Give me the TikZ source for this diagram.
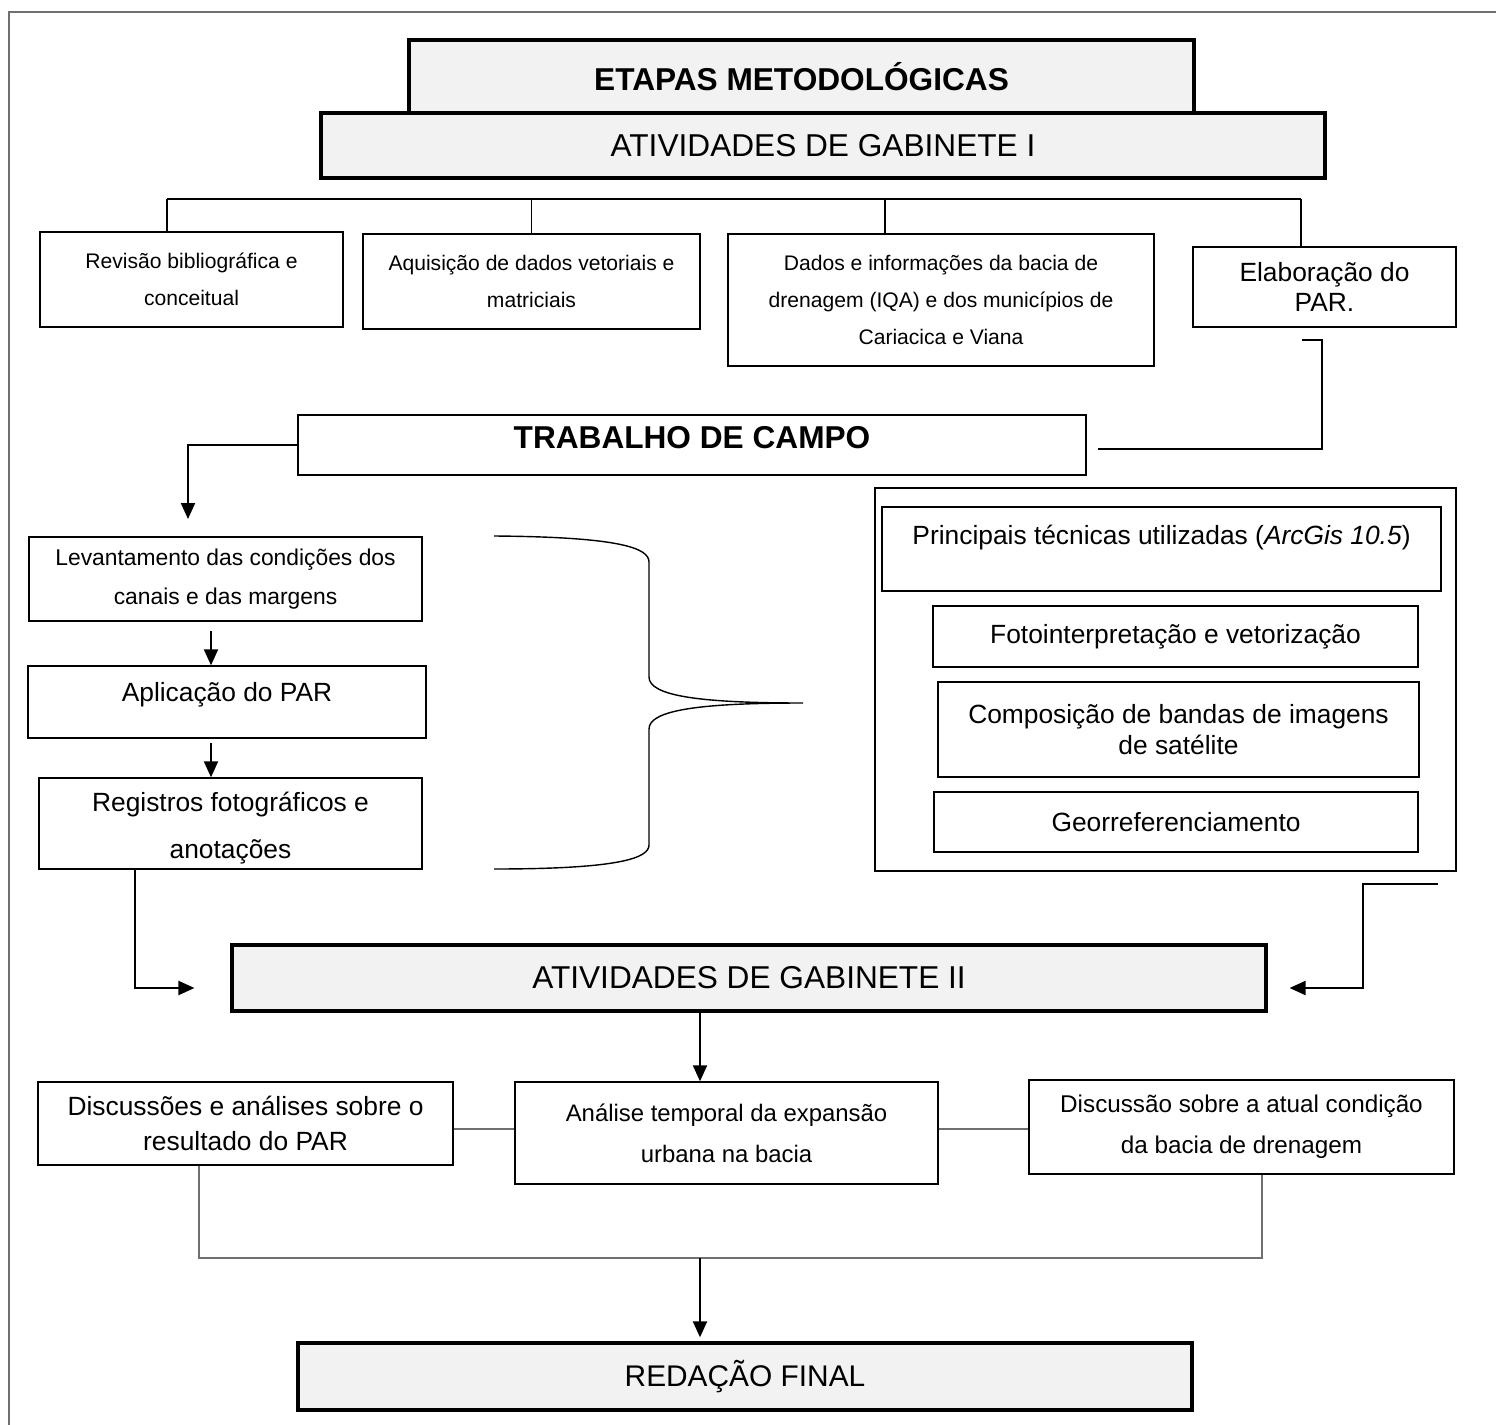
\documentclass[tikz,border=0pt]{standalone}
\usepackage{fontspec}
\setmainfont{Liberation Sans}
\usetikzlibrary{arrows.meta}

\definecolor{boxgray}{HTML}{F2F2F2}
\definecolor{linkgray}{HTML}{707070}

\tikzset{
  box/.style={draw, rectangle, inner sep=0pt, align=center, line width=0.8pt},
  headbox/.style={box, fill=boxgray, line width=1.9pt},
  boldbox/.style={box, line width=1.5pt},
  arr/.style={-{Triangle[width=0.28cm,length=0.32cm]}, line width=1.2pt},
  link/.style={draw=linkgray, line width=0.8pt},
}

\begin{document}
\begin{tikzpicture}[x=0.02cm, y=-0.02cm]
  \useasboundingbox (0,0) rectangle (1496,1425);
  \draw[linkgray, line width=0.7pt] (9,1425) -- (9,12) -- (1496,12);

  % cabecalho
  \node[headbox, minimum width=15.7cm, minimum height=1.46cm,
    font=\fontsize{18}{21}\selectfont\bfseries] (etapas) at (801.5,76.5) {ETAPAS METODOLÓGICAS};
  \node[headbox, minimum width=20.08cm, minimum height=1.3cm,
    font=\fontsize{18}{21}\selectfont] (gab1) at (823,145.5) {ATIVIDADES DE GABINETE I};

  % atividades de gabinete I
  \node[box, minimum width=6.06cm, minimum height=1.9cm,
    font=\fontsize{12}{21}\selectfont] (rev) at (191.5,279.5) {Revisão bibliográfica e\\conceitual};
  \node[box, minimum width=6.74cm, minimum height=1.9cm,
    font=\fontsize{12}{21}\selectfont] (aqui) at (531.5,281.5) {Aquisição de dados vetoriais e\\matriciais};
  \node[box, minimum width=8.52cm, minimum height=2.64cm,
    font=\fontsize{12}{20.8}\selectfont] (dados) at (941,300)
    {Dados e informações da bacia de\\drenagem (IQA) e dos municípios de\\Cariacica e Viana};
  \node[box, minimum width=5.26cm, minimum height=1.6cm,
    font=\fontsize{15}{17}\selectfont] (elab) at (1324.5,287) {Elaboração do\\PAR.};

  \coordinate (t1) at (167,199);
  \coordinate (t3) at (885,199);
  \coordinate (t4) at (1301,199);
  \draw[line width=0.8pt] (t1) -- (t4);
  \draw[line width=0.8pt] (t1) -- (t1 |- rev.north);
  \draw[line width=0.8pt] (aqui.north |- t1) -- (aqui.north);
  \draw[line width=0.8pt] (t3) -- (t3 |- dados.north);
  \draw[line width=0.8pt] (t4) -- (t4 |- elab.north);

  % trabalho de campo
  \node[boldbox, minimum width=15.76cm, minimum height=1.2cm, text height=0.66cm, text depth=0.54cm,
    font=\fontsize{18}{21}\selectfont\bfseries] (campo) at (692,445) {TRABALHO DE CAMPO};

  \coordinate (e1) at (1302,340);
  \coordinate (e2) at (1322,449);
  \coordinate (e3) at (1098,449);
  \draw[line width=0.9pt] (e1) -| (e2) -- (e3);

  \node[box, minimum width=7.86cm, minimum height=1.68cm,
    font=\fontsize{13}{22}\selectfont] (lev) at (225.5,579) {Levantamento das condições dos\\canais e das margens};
  \node[box, minimum width=7.96cm, minimum height=1.44cm, text height=0.71cm, text depth=0.73cm,
    font=\fontsize{15}{18}\selectfont] (apl) at (227,702) {Aplicação do PAR};
  \node[box, minimum width=7.66cm, minimum height=1.82cm, text height=1.6cm, text depth=0.22cm,
    font=\fontsize{15}{26.7}\selectfont] (reg) at (230.5,823.5) {Registros fotográficos e\\anotações};

  \coordinate (a1) at (188,519);
  \coordinate (xl) at (211,0);
  \draw[arr] (campo.west) -| (a1);
  \draw[arr, shorten <=0.18cm] (lev.south -| xl) -- (apl.north -| xl);
  \draw[arr, shorten <=0.08cm] (apl.south -| xl) -- (reg.north -| xl);

  % chave
  \draw[line width=0.8pt] (494,536) .. controls (620,537) and (649,548) .. (649,562)
    -- (649,677) .. controls (649,696) and (700,703) .. (803,703)
    .. controls (700,703) and (649,710) .. (649,729)
    -- (649,845) .. controls (649,858) and (620,869) .. (494,869);

  % tecnicas
  \node[box, minimum width=11.62cm, minimum height=7.66cm] (tecn) at (1165.5,679.5) {};
  \node[boldbox, minimum width=11.18cm, minimum height=1.68cm, text height=0.75cm, text depth=0.93cm,
    font=\fontsize{15}{18}\selectfont] (princ) at (1161.5,549)
    {Principais técnicas utilizadas (\textit{ArcGis 10.5})};
  \node[box, minimum width=9.7cm, minimum height=1.22cm,
    font=\fontsize{15}{18}\selectfont] (foto) at (1175.5,636.5) {Fotointerpretação e vetorização};
  \node[box, minimum width=9.62cm, minimum height=1.9cm,
    font=\fontsize{15}{17.6}\selectfont] (comp) at (1178.5,729.5) {Composição de bandas de imagens\\de satélite};
  \node[box, minimum width=9.68cm, minimum height=1.2cm,
    font=\fontsize{15}{18}\selectfont] (geo) at (1176,822) {Georreferenciamento};

  % atividades de gabinete II
  \node[headbox, minimum width=20.68cm, minimum height=1.32cm,
    font=\fontsize{18}{21}\selectfont] (gab2) at (749,978) {ATIVIDADES DE GABINETE II};

  \coordinate (xr) at (135,0);
  \coordinate (r1) at (1438,884);
  \coordinate (r2) at (1363,884);
  \draw[arr, shorten >=0.72cm] (reg.south -| xr) |- ([yshift=-0.2cm]gab2.west);
  \draw[arr, shorten >=0.44cm] (r1) -- (r2) |- ([yshift=-0.2cm]gab2.east);

  \node[box, minimum width=8.3cm, minimum height=1.66cm,
    font=\fontsize{15}{20}\selectfont] (disc) at (245.5,1123.5) {Discussões e análises sobre o\\resultado do PAR};
  \node[box, minimum width=8.46cm, minimum height=2.04cm,
    font=\fontsize{13.6}{23.3}\selectfont] (anal) at (726.5,1133) {Análise temporal da expansão\\urbana na bacia};
  \node[box, minimum width=8.5cm, minimum height=1.88cm,
    font=\fontsize{13.8}{23.3}\selectfont] (cond) at (1241.5,1127) {Discussão sobre a atual condição\\da bacia de drenagem};

  \coordinate (xm) at (700,0);
  \coordinate (ym) at (0,1129);
  \draw[arr] (gab2.south -| xm) -- (anal.north -| xm);
  \draw[link] (disc.east |- ym) -- (anal.west |- ym);
  \draw[link] (anal.east |- ym) -- (cond.west |- ym);

  % redacao final
  \node[headbox, minimum width=17.88cm, minimum height=1.34cm,
    font=\fontsize{17}{20}\selectfont] (final) at (745,1376.5) {REDAÇÃO FINAL};

  \coordinate (bl) at (199,1258);
  \coordinate (br) at (1262,1258);
  \draw[link] (disc.south -| bl) -- (bl) -- (br) -- (cond.south -| br);
  \draw[arr, shorten >=0.08cm] (bl -| xm) -- (final.north -| xm);
\end{tikzpicture}
\end{document}
